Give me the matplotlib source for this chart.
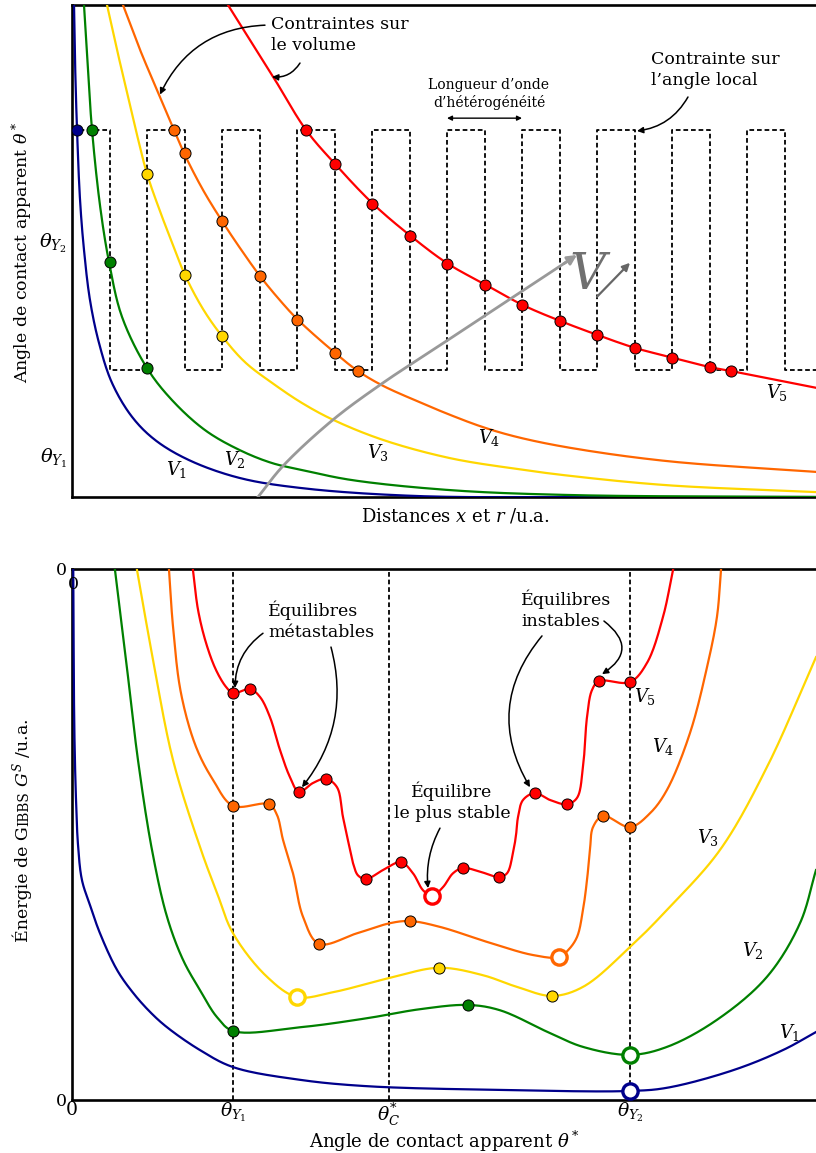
import numpy as np
import matplotlib
matplotlib.use("Agg")
import matplotlib.pyplot as plt

plt.rcParams['font.family'] = ['DejaVu Serif']
plt.rcParams['mathtext.fontset'] = 'dejavuserif'

# ---------------- data : top panel (distance vs apparent angle) ----------------
top_v1_x = [0.027, 0.04, 0.067, 0.107, 0.16, 0.24, 0.36, 0.533, 0.8, 1.107, 1.56, 2.227, 3.067, 4.6, 7.04, 9.92]
top_v1_y = [100, 88.8, 74.6, 60.4, 50.2, 40.0, 31.3, 23.2, 16.3, 11.6, 7.5, 3.9, 1.8, 0.2, 0, 0]
top_v2_x = [0.16, 0.213, 0.267, 0.373, 0.493, 0.667, 1.0, 1.333, 1.773, 2.227, 2.667, 3.067, 3.707, 5.04, 6.64, 9.92]
top_v2_y = [100, 86.8, 74.6, 59.3, 47.8, 36.6, 26.2, 19.7, 13.6, 9.6, 6.9, 5.5, 3.5, 1.4, 0.4, 0]
top_v3_x = [0.467, 0.6, 0.733, 0.867, 1.0, 1.173, 1.347, 1.507, 1.747, 2.0, 2.307, 2.667, 3.067, 3.48, 4.147, 5.04, 5.933, 6.64, 7.933, 9.92]
top_v3_y = [100, 90.9, 82.3, 73.6, 65.7, 58.1, 51.2, 45.1, 38.2, 32.7, 27.4, 23.2, 19.1, 15.7, 11.6, 7.9, 5.7, 4.3, 2.4, 1.0]
top_v4_x = [0.68, 0.907, 1.173, 1.36, 1.493, 1.747, 2.0, 2.24, 2.507, 2.76, 3.013, 3.507, 3.813, 4.147, 4.6, 5.04, 5.48, 5.933, 6.64, 7.933, 9.92]
top_v4_y = [100, 90.9, 81.3, 74.6, 69.9, 62.4, 56.1, 50.6, 44.9, 40.2, 36.0, 29.3, 25.6, 22.6, 19.5, 16.7, 14.2, 12.2, 10.0, 7.3, 5.1]
top_v5_x = [2.08, 2.373, 2.667, 3.12, 3.507, 4.013, 4.52, 5.013, 5.52, 6.013, 6.507, 7.013, 7.507, 8.013, 8.507, 8.787, 9.92]
top_v5_y = [100, 92.9, 85.8, 74.6, 67.7, 59.6, 53.0, 47.4, 43.1, 39.0, 35.8, 32.9, 30.3, 28.3, 26.4, 25.6, 22.2]

top_dots_v1_x = [0.067]
top_dots_v1_y = [74.6]
top_dots_v2_x = [0.267, 0.5, 1.0]
top_dots_v2_y = [74.6, 47.8, 26.2]
top_dots_v3_x = [1.0, 1.5, 2.0]
top_dots_v3_y = [65.7, 45.1, 32.7]
top_dots_v4_x = [1.36, 1.5, 2.0, 2.5, 3.0, 3.5, 3.813]
top_dots_v4_y = [74.6, 69.9, 56.1, 44.9, 36.0, 29.3, 25.6]
top_dots_v5_x = [3.12, 3.5, 4.0, 4.5, 5.0, 5.5, 6.0, 6.5, 7.0, 7.5, 8.0, 8.5, 8.787]
top_dots_v5_y = [74.6, 67.7, 59.6, 53.0, 47.4, 43.1, 39.0, 35.8, 32.9, 30.3, 28.3, 26.4, 25.6]

wave_edges = [0.0, 0.5, 1.0, 1.5, 2.0, 2.5, 3.0, 3.5, 4.0, 4.5, 5.0, 5.5, 6.0, 6.5, 7.0, 7.5, 8.0, 8.5, 9.0, 9.5, 9.92]
wave_levels = [74.6, 25.8, 74.6, 25.8, 74.6, 25.8, 74.6, 25.8, 74.6, 25.8, 74.6, 25.8, 74.6, 25.8, 74.6, 25.8, 74.6, 25.8, 74.6, 25.8, 25.8]

vpath_x = [2.48, 2.813, 3.48, 4.147, 4.813, 5.48, 6.147, 6.733]
vpath_y = [0.0, 6.3, 15.7, 23.2, 29.9, 36.6, 43.3, 49.2]

top_yticks = [52.2, 8.5]
top_yticklabels = [r'$\theta_{Y_2}$', r'$\theta_{Y_1}$']

# ---------------- data : bottom panel (apparent angle vs Gibbs energy) ----------------
bot_v1_x = [0.17, 0.31, 0.54, 0.81, 1.34, 2.42, 3.76, 6.05, 8.2, 10.48, 12.77, 17.2, 21.64, 30.65, 39.65, 57.53, 75.0, 79.97, 88.84, 95.56, 100]
bot_v1_y = [99.8, 70.2, 56.5, 48.0, 41.4, 36.7, 31.4, 24.5, 20.2, 16.6, 13.7, 9.4, 6.2, 3.8, 2.6, 1.9, 1.7, 2.3, 5.6, 9.4, 12.8]
bot_v2_x = [5.78, 7.26, 8.87, 10.75, 12.77, 14.92, 17.2, 19.49, 21.64, 30.65, 39.65, 46.77, 53.23, 57.53, 64.25, 68.68, 75.0, 79.97, 86.69, 93.41, 97.85, 100]
bot_v2_y = [99.8, 82.9, 64.0, 47.1, 34.5, 26.4, 20.7, 15.6, 13.0, 13.7, 15.4, 17.1, 17.9, 16.9, 12.6, 10.0, 8.5, 10.0, 15.1, 23.2, 33.3, 43.3]
bot_v3_x = [8.74, 10.89, 13.58, 17.34, 19.49, 21.64, 26.21, 30.24, 35.08, 42.74, 49.33, 55.24, 59.81, 64.52, 68.68, 75.0, 79.97, 87.1, 93.41, 100]
bot_v3_y = [99.8, 82.9, 64.0, 47.1, 39.0, 31.4, 23.2, 19.4, 20.3, 23.0, 24.9, 23.5, 21.3, 19.6, 21.3, 28.8, 35.8, 47.1, 62.7, 83.4]
bot_v4_x = [13.04, 13.58, 14.65, 16.67, 18.95, 21.64, 26.48, 27.55, 28.36, 29.7, 31.05, 33.2, 38.31, 42.74, 45.43, 49.46, 56.18, 61.96, 65.46, 66.67, 67.88, 68.68, 69.22, 69.62, 70.03, 71.37, 75.0, 77.69, 79.97, 83.06, 85.35, 86.69, 87.23]
bot_v4_y = [99.8, 89.1, 76.6, 66.5, 60.3, 55.4, 55.7, 53.7, 49.0, 42.7, 34.5, 29.4, 31.4, 33.3, 33.7, 32.6, 29.6, 27.3, 26.9, 28.2, 30.7, 35.8, 41.4, 47.1, 51.4, 53.5, 51.4, 54.0, 58.4, 69.1, 81.5, 91.0, 99.8]
bot_v5_x = [16.26, 16.94, 18.01, 19.35, 20.7, 21.64, 23.92, 25.27, 26.61, 27.96, 29.3, 30.51, 32.39, 34.14, 35.62, 36.42, 37.37, 37.77, 38.44, 39.52, 41.8, 44.22, 45.83, 47.18, 48.39, 49.87, 51.21, 52.55, 54.84, 57.39, 58.47, 59.27, 59.68, 59.95, 60.62, 62.23, 64.25, 66.53, 67.88, 68.68, 69.22, 69.89, 70.83, 75.0, 77.28, 79.44, 80.78]
bot_v5_y = [99.8, 92.3, 86.1, 81.0, 77.8, 76.6, 77.4, 75.9, 72.1, 65.9, 60.8, 58.0, 59.7, 60.5, 58.9, 53.3, 47.1, 44.6, 42.3, 41.6, 43.3, 44.8, 42.7, 39.5, 38.4, 40.1, 42.7, 43.7, 43.0, 42.0, 42.7, 46.5, 49.9, 53.3, 56.5, 57.8, 56.5, 55.7, 56.9, 62.7, 72.1, 77.2, 78.9, 78.7, 82.3, 91.0, 99.8]

bot_dots_v5_x = [21.64, 23.92, 30.51, 34.14, 39.52, 44.22, 52.55, 57.39, 62.23, 66.53, 70.83, 75.0]
bot_dots_v5_y = [76.6, 77.4, 58.0, 60.5, 41.6, 44.8, 43.7, 42.0, 57.8, 55.7, 78.9, 78.7]
bot_dots_v4_x = [21.64, 26.48, 33.2, 45.43, 71.37, 75.0]
bot_dots_v4_y = [55.4, 55.7, 29.4, 33.7, 53.5, 51.4]
bot_dots_v3_x = [49.33, 64.52]
bot_dots_v3_y = [24.9, 19.6]
bot_dots_v2_x = [21.64, 53.23]
bot_dots_v2_y = [13.0, 17.9]
bot_stable_x = [75.0, 75.0, 30.24, 65.46, 48.39]
bot_stable_y = [1.7, 8.5, 19.4, 26.9, 38.4]

theta_pos = [21.64, 42.61, 75.0]
bot_xticks = [0, 21.64, 42.61, 75.0]
bot_xticklabels = ['0', r'$\theta_{Y_1}$', r'$\theta_{C}^{*}$', r'$\theta_{Y_2}$']

colors = ['#00008B', '#008000', '#FFD700', '#FF6600', '#FF0000']
labels = [r'$V_1$', r'$V_2$', r'$V_3$', r'$V_4$', r'$V_5$']
top_label_x = [1.4, 2.17, 4.08, 5.56, 9.4]
top_label_y = [5.5, 7.7, 9.1, 12.0, 21.3]
bot_label_x = [96.5, 91.5, 85.5, 79.4, 77.0]
bot_label_y = [12.8, 28.2, 49.5, 66.5, 75.9]


def crspline(x, y, sx, sy, n=24):
    """Centripetal Catmull-Rom rendering through the read points."""
    P = np.column_stack([np.asarray(x, float) * sx, np.asarray(y, float) * sy])
    P = np.vstack([2 * P[0] - P[1], P, 2 * P[-1] - P[-2]])
    segs = []
    for i in range(len(P) - 3):
        p0, p1, p2, p3 = P[i:i + 4]
        t0 = 0.0
        t1 = t0 + np.hypot(*(p1 - p0)) ** 0.5
        t2 = t1 + np.hypot(*(p2 - p1)) ** 0.5
        t3 = t2 + np.hypot(*(p3 - p2)) ** 0.5
        t = np.linspace(t1, t2, n)[:, None]
        a1 = (t1 - t) / (t1 - t0) * p0 + (t - t0) / (t1 - t0) * p1
        a2 = (t2 - t) / (t2 - t1) * p1 + (t - t1) / (t2 - t1) * p2
        a3 = (t3 - t) / (t3 - t2) * p2 + (t - t2) / (t3 - t2) * p3
        b1 = (t2 - t) / (t2 - t0) * a1 + (t - t0) / (t2 - t0) * a2
        b2 = (t3 - t) / (t3 - t1) * a2 + (t - t1) / (t3 - t1) * a3
        c = (t2 - t) / (t2 - t1) * b1 + (t - t1) / (t2 - t1) * b2
        segs.append(c if i == 0 else c[1:])
    C = np.vstack(segs)
    return C[:, 0] / sx, C[:, 1] / sy


W, H = 816, 1153
fig = plt.figure(figsize=(W / 100, H / 100), dpi=100)

ax1 = fig.add_axes([72 / W, 1 - 497 / H, 744 / W, 492 / H])
ax2 = fig.add_axes([72 / W, 1 - 1100 / H, 744 / W, 531 / H])

for ax in (ax1, ax2):
    ax.spines['right'].set_visible(False)
    for s in ('left', 'top', 'bottom'):
        ax.spines[s].set_linewidth(1.9)
    ax.tick_params(length=0, labelsize=12.5)

# ---------------- top panel ----------------
ax1.set_xlim(0, 9.92)
ax1.set_ylim(0, 100)
sx1, sy1 = 75.0, 4.92

ax1.step(wave_edges, wave_levels, where='post', color='black', lw=1.3,
         linestyle=(0, (2.6, 1.6)), zorder=2)

top_curves = [(top_v1_x, top_v1_y), (top_v2_x, top_v2_y), (top_v3_x, top_v3_y),
              (top_v4_x, top_v4_y), (top_v5_x, top_v5_y)]
top_dots = [(top_dots_v1_x, top_dots_v1_y), (top_dots_v2_x, top_dots_v2_y),
            (top_dots_v3_x, top_dots_v3_y), (top_dots_v4_x, top_dots_v4_y),
            (top_dots_v5_x, top_dots_v5_y)]
for (cx, cy), (dx, dy), col in zip(top_curves, top_dots, colors):
    xs, ys = crspline(cx, cy, sx1, sy1)
    ax1.plot(xs, ys, color=col, lw=1.6, zorder=3)
    ax1.plot(dx, dy, 'o', color=col, mec='black', mew=0.7, ms=8, zorder=5)

for lx, ly, lab in zip(top_label_x, top_label_y, labels):
    ax1.text(lx, ly, lab, fontsize=13, ha='center', va='center')

# gray volume arrow
gx, gy = crspline(vpath_x, vpath_y, sx1, sy1)
ax1.plot(gx[:-6], gy[:-6], color='#999999', lw=2.0, zorder=4)
ax1.annotate('', xy=(gx[-1], gy[-1]), xytext=(gx[-8], gy[-8]),
             arrowprops=dict(arrowstyle='-|>', color='#999999', lw=2.0,
                             mutation_scale=14, shrinkA=0, shrinkB=0), zorder=4)
ax1.text(6.907, 45.1, r'$V$', fontsize=36, color='#707070', ha='center', va='center')
ax1.annotate('', xy=(7.44, 47.6), xytext=(7.0, 40.7),
             arrowprops=dict(arrowstyle='-|>', color='#666666', lw=1.6,
                             mutation_scale=11, shrinkA=0, shrinkB=0))

ax1.set_yticks(top_yticks)
ax1.set_yticklabels(top_yticklabels, fontsize=14)
ax1.set_xticks([])

arrow_kw = dict(arrowstyle='-|>', color='black', lw=1.1, mutation_scale=9,
                shrinkA=0, shrinkB=0)

ax1.text(2.653, 93.9, 'Contraintes sur\nle volume', fontsize=12.5, ha='left',
         va='center', linespacing=1.3)
ax1.annotate('', xy=(1.173, 81.8), xytext=(2.573, 95.9),
             arrowprops=dict(connectionstyle='arc3,rad=0.3', **arrow_kw))
ax1.annotate('', xy=(2.667, 85.4), xytext=(3.04, 88.2),
             arrowprops=dict(connectionstyle='arc3,rad=-0.3', **arrow_kw))
ax1.text(7.72, 86.8, "Contrainte sur\nl\u2019angle local", fontsize=12.5, ha='left',
         va='center', linespacing=1.3)
ax1.annotate('', xy=(7.533, 74.4), xytext=(8.213, 81.3),
             arrowprops=dict(connectionstyle='arc3,rad=-0.25', **arrow_kw))
ax1.text(5.56, 81.9, "Longueur d\u2019onde\nd\u2019h\u00e9t\u00e9rog\u00e9n\u00e9it\u00e9",
         fontsize=10, ha='center', va='center', linespacing=1.3)
ax1.annotate('', xy=(6.0, 77.0), xytext=(5.0, 77.0),
             arrowprops=dict(arrowstyle='<|-|>', color='black', lw=1.0,
                             mutation_scale=7, shrinkA=0, shrinkB=0))

# ---------------- bottom panel ----------------
ax2.set_xlim(0, 100)
ax2.set_ylim(0, 100)
sx2, sy2 = 7.44, 5.31

for tx in theta_pos:
    ax2.axvline(tx, color='black', lw=1.3, linestyle=(0, (2.6, 1.6)), zorder=1)

bot_curves = [(bot_v1_x, bot_v1_y), (bot_v2_x, bot_v2_y), (bot_v3_x, bot_v3_y),
              (bot_v4_x, bot_v4_y), (bot_v5_x, bot_v5_y)]
for (cx, cy), col in zip(bot_curves, colors):
    xs, ys = crspline(cx, cy, sx2, sy2)
    ax2.plot(xs, ys, color=col, lw=1.6, zorder=3)

bot_dots = [(bot_dots_v2_x, bot_dots_v2_y, colors[1]), (bot_dots_v3_x, bot_dots_v3_y, colors[2]),
            (bot_dots_v4_x, bot_dots_v4_y, colors[3]), (bot_dots_v5_x, bot_dots_v5_y, colors[4])]
for dx, dy, col in bot_dots:
    ax2.plot(dx, dy, 'o', color=col, mec='black', mew=0.7, ms=8, zorder=5)
for sxv, syv, col in zip(bot_stable_x, bot_stable_y, colors):
    ax2.plot([sxv], [syv], 'o', mfc='white', mec=col, mew=2.4, ms=11, zorder=5)

for lx, ly, lab in zip(bot_label_x, bot_label_y, labels):
    ax2.text(lx, ly, lab, fontsize=13, ha='center', va='center')

ax2.set_xticks(bot_xticks)
ax2.set_xticklabels(bot_xticklabels, fontsize=13.5)
ax2.tick_params(axis='x', pad=1)
ax2.set_yticks([0, 100])
ax2.set_yticklabels(['0', '0'], fontsize=12.5)
ax2.text(0.15, 97.0, '0', fontsize=12.5, ha='center', va='center')

ax2.text(26.34, 90.2, '\u00c9quilibres\nm\u00e9tastables', fontsize=12.5, ha='left',
         va='center', linespacing=1.3)
ax2.annotate('', xy=(21.91, 77.6), xytext=(25.67, 87.9),
             arrowprops=dict(connectionstyle='arc3,rad=0.25', **arrow_kw))
ax2.annotate('', xy=(30.91, 58.9), xytext=(34.81, 85.3),
             arrowprops=dict(connectionstyle='arc3,rad=-0.25', **arrow_kw))
ax2.text(60.35, 92.3, '\u00c9quilibres\ninstables', fontsize=12.5, ha='left',
         va='center', linespacing=1.3)
ax2.annotate('', xy=(61.56, 58.9), xytext=(63.17, 87.4),
             arrowprops=dict(connectionstyle='arc3,rad=0.35', **arrow_kw))
ax2.annotate('', xy=(71.24, 80.2), xytext=(71.5, 90.2),
             arrowprops=dict(connectionstyle='arc3,rad=-0.7', **arrow_kw))
ax2.text(51.08, 56.1, '\u00c9quilibre\nle plus stable', fontsize=12.5, ha='center',
         va='center', linespacing=1.3)
ax2.annotate('', xy=(47.85, 39.9), xytext=(49.46, 51.2),
             arrowprops=dict(connectionstyle='arc3,rad=0.15', **arrow_kw))

# ---------------- axis titles ----------------
fig.text(455 / W, 1 - 516 / H, r'Distances $x$ et $r$ /u.a.', fontsize=13,
         ha='center', va='center')
fig.text(444 / W, 1 - 1141 / H, r'Angle de contact apparent $\theta^*$', fontsize=13,
         ha='center', va='center')
fig.text(22 / W, 1 - 252 / H, r'Angle de contact apparent $\theta^*$', fontsize=12.5,
         ha='center', va='center', rotation=90)

# small-caps "Gibbs" label, built from pieces
pieces = [('\u00c9nergie de G', 12.5), ('IBBS', 9.8), (r' $G^S$ /u.a.', 12.5)]
ptexts = [fig.text(28 / W, 0.5, s, fontsize=sz, rotation=90, rotation_mode='anchor',
                   ha='left', va='baseline') for s, sz in pieces]
fig.canvas.draw()
rend = fig.canvas.get_renderer()
hts = [t.get_window_extent(rend).height for t in ptexts]
y0 = (H - 830) - sum(hts) / 2
for t, h in zip(ptexts, hts):
    t.set_position((28 / W, y0 / H))
    y0 += h

fig.savefig('out.png', dpi=100)
